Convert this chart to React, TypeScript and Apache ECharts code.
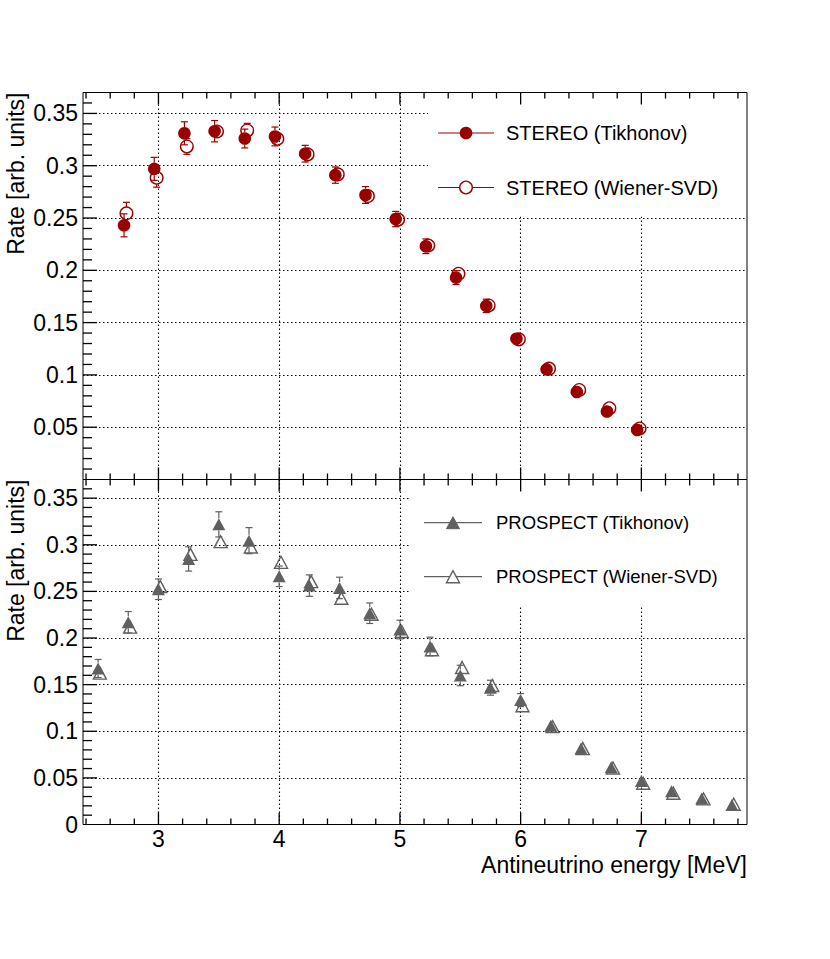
import React, { useEffect, useRef } from "react";
import * as echarts from "echarts";

// ---------------- data ----------------
const STEREO_TIK_E = [2.715, 2.965, 3.215, 3.465, 3.715, 3.965, 4.215, 4.465, 4.715, 4.965, 5.215, 5.465, 5.715, 5.965, 6.215, 6.465, 6.715, 6.965];
const STEREO_TIK_RATE = [0.243, 0.297, 0.331, 0.333, 0.326, 0.328, 0.3115, 0.291, 0.272, 0.249, 0.223, 0.193, 0.166, 0.1346, 0.1053, 0.0837, 0.065, 0.0474];
const STEREO_TIK_ERR = [0.011, 0.011, 0.011, 0.0102, 0.009, 0.009, 0.008, 0.0078, 0.008, 0.0073, 0.007, 0.0066, 0.0064, 0.006, 0.005, 0.005, 0.004, 0.004];

const STEREO_WSVD_E = [2.735, 2.985, 3.235, 3.485, 3.735, 3.985, 4.235, 4.485, 4.735, 4.985, 5.235, 5.485, 5.735, 5.985, 6.235, 6.485, 6.735, 6.985];
const STEREO_WSVD_RATE = [0.2545, 0.2885, 0.3184, 0.3327, 0.3337, 0.3258, 0.3108, 0.2917, 0.271, 0.2485, 0.2237, 0.1967, 0.1664, 0.134, 0.106, 0.0856, 0.0681, 0.0488];
const STEREO_WSVD_ERR = [0.0105, 0.009, 0.0075, 0.006, 0.0068, 0.006, 0.006, 0.0055, 0.0055, 0.005, 0.005, 0.005, 0.0045, 0.004, 0.004, 0.0035, 0.003, 0.003];

const PROSPECT_TIK_E = [2.5, 2.75, 3.0, 3.25, 3.5, 3.75, 4.0, 4.25, 4.5, 4.75, 5.0, 5.25, 5.5, 5.75, 6.0, 6.25, 6.5, 6.75, 7.0, 7.25, 7.5, 7.75];
const PROSPECT_TIK_RATE = [0.1673, 0.2169, 0.2523, 0.2848, 0.3219, 0.3044, 0.2662, 0.2562, 0.2537, 0.2266, 0.2091, 0.1909, 0.1598, 0.1467, 0.1334, 0.106, 0.0814, 0.0613, 0.0467, 0.0357, 0.0278, 0.021];
const PROSPECT_TIK_ERR = [0.0097, 0.0115, 0.011, 0.013, 0.0135, 0.014, 0.011, 0.0115, 0.0115, 0.011, 0.01, 0.01, 0.011, 0.008, 0.007, 0.006, 0.005, 0.0045, 0.004, 0.0035, 0.003, 0.003];

const PROSPECT_WSVD_E = [2.515, 2.765, 3.015, 3.265, 3.515, 3.765, 4.015, 4.265, 4.515, 4.765, 5.015, 5.265, 5.515, 5.765, 6.015, 6.265, 6.515, 6.765, 7.015, 7.265, 7.515, 7.765];
const PROSPECT_WSVD_RATE = [0.1623, 0.2116, 0.2551, 0.2897, 0.3033, 0.2976, 0.2812, 0.2605, 0.2426, 0.2255, 0.207, 0.1874, 0.1684, 0.1491, 0.1274, 0.1049, 0.0814, 0.0606, 0.0442, 0.0335, 0.0274, 0.0217];
const PROSPECT_WSVD_ERR = [0.005, 0.005, 0.005, 0.005, 0.005, 0.005, 0.005, 0.005, 0.005, 0.005, 0.005, 0.005, 0.005, 0.0045, 0.004, 0.004, 0.0035, 0.003, 0.003, 0.0025, 0.0025, 0.0025];

const X_MIN = 2.375;
const X_MAX = 7.875;
const MAJOR_X_TICKS = [3, 4, 5, 6, 7];
const MINOR_X_TICKS = [2.4, 2.6, 2.8, 3.2, 3.4, 3.6, 3.8, 4.2, 4.4, 4.6, 4.8, 5.2, 5.4, 5.6, 5.8, 6.2, 6.4, 6.6, 6.8, 7.2, 7.4, 7.6, 7.8];
const Y_MIN = 0;
const Y_MAX = 0.37;
const MAJOR_Y_TICKS = [0.05, 0.1, 0.15, 0.2, 0.25, 0.3, 0.35];
const MINOR_Y_TICKS = [0.01, 0.02, 0.03, 0.04, 0.06, 0.07, 0.08, 0.09, 0.11, 0.12, 0.13, 0.14, 0.16, 0.17, 0.18, 0.19, 0.21, 0.22, 0.23, 0.24, 0.26, 0.27, 0.28, 0.29, 0.31, 0.32, 0.33, 0.34, 0.36];

const X_TITLE = "Antineutrino energy [MeV]";
const Y_TITLE = "Rate [arb. units]";
const LEG_STEREO = ["STEREO (Tikhonov)", "STEREO (Wiener-SVD)"];
const LEG_PROSPECT = ["PROSPECT (Tikhonov)", "PROSPECT (Wiener-SVD)"];

// ---------------- styles ----------------
const RED = "#990000";
const GREY = "#606060";
const FONT = "'Liberation Sans', Arial, Helvetica, sans-serif";

const GL = 83;
const GW = 664;
const TOP_T = 92.5;
const TOP_H = 387;
const BOT_T = 479.5;
const BOT_H = 345;

const dot = () => ({ color: "#000", width: 1.1, type: [1.5, 2.5] as any, opacity: 1 });

function xAxisFor(gridIndex: number, labels: boolean) {
  return {
    type: "value",
    gridIndex,
    min: X_MIN,
    max: X_MAX,
    position: "bottom",
    z: 0,
    axisLine: { show: false, onZero: false },
    axisTick: { show: false, customValues: MAJOR_X_TICKS },
    splitLine: { show: true, lineStyle: dot() },
    axisLabel: labels
      ? { show: true, customValues: MAJOR_X_TICKS, margin: 3, fontSize: 23, fontFamily: FONT, color: "#000" }
      : { show: false },
  };
}

function yAxisFor(gridIndex: number, showZero: boolean) {
  return {
    type: "value",
    gridIndex,
    min: Y_MIN,
    max: Y_MAX,
    interval: 0.05,
    position: "left",
    z: 0,
    axisLine: { show: false, onZero: false },
    axisTick: { show: false },
    splitLine: { show: true, lineStyle: dot() },
    axisLabel: {
      show: true,
      showMinLabel: showZero,
      showMaxLabel: false,
      margin: 5,
      fontSize: 23,
      fontFamily: FONT,
      color: "#000",
      formatter: (v: number) => String(parseFloat(Number(v).toFixed(2))),
    },
  };
}

function errRenderer(color: string, gap: number) {
  return (params: any, api: any) => {
    const x = api.value(0);
    const y = api.value(1);
    const e = api.value(2);
    const c = api.coord([x, y]);
    const hi = api.coord([x, y + e]);
    const lo = api.coord([x, y - e]);
    const style = { stroke: color, lineWidth: 1.2, fill: "none" };
    const cap = 3.5;
    const children: any[] = [];
    if (c[1] - hi[1] > gap) {
      children.push({ type: "line", shape: { x1: c[0], y1: c[1] - gap, x2: c[0], y2: hi[1] }, style });
      children.push({ type: "line", shape: { x1: c[0] - cap, y1: hi[1], x2: c[0] + cap, y2: hi[1] }, style });
    }
    if (lo[1] - c[1] > gap) {
      children.push({ type: "line", shape: { x1: c[0], y1: c[1] + gap, x2: c[0], y2: lo[1] }, style });
      children.push({ type: "line", shape: { x1: c[0] - cap, y1: lo[1], x2: c[0] + cap, y2: lo[1] }, style });
    }
    return { type: "group", children };
  };
}

// one tick per data item: [x, y, kind] with kind 0 = bottom, 1 = top, 2 = left; value 3 = length in px
function tickRenderer(params: any, api: any) {
  const x = api.value(0);
  const y = api.value(1);
  const kind = api.value(2);
  const len = api.value(3);
  const c = api.coord([x, y]);
  const style = { stroke: "#000", lineWidth: 1.3, fill: "none" };
  let shape;
  if (kind === 2) shape = { x1: c[0], y1: c[1], x2: c[0] + len, y2: c[1] };
  else if (kind === 0) shape = { x1: c[0], y1: c[1], x2: c[0], y2: c[1] - len };
  else shape = { x1: c[0], y1: c[1], x2: c[0], y2: c[1] + len };
  return { type: "group", children: [{ type: "line", shape, style }] };
}

function tickData() {
  const d: number[][] = [];
  MINOR_X_TICKS.forEach((v) => { d.push([v, Y_MIN, 0, 6]); d.push([v, Y_MAX, 1, 6]); });
  MAJOR_X_TICKS.forEach((v) => { d.push([v, Y_MIN, 0, 12]); d.push([v, Y_MAX, 1, 12]); });
  MINOR_Y_TICKS.forEach((v) => d.push([X_MIN, v, 2, 9]));
  MAJOR_Y_TICKS.forEach((v) => d.push([X_MIN, v, 2, 14]));
  return d;
}

const pts = (e: number[], r: number[], s: number[]) => e.map((x, i) => [x, r[i], s[i]]);

export default function App() {
  const ref = useRef<HTMLDivElement>(null);
  useEffect(() => {
    if (!ref.current) return;
    const chart = echarts.init(ref.current, undefined, { renderer: "svg" });

    const top = { xAxisIndex: 0, yAxisIndex: 0 };
    const bot = { xAxisIndex: 1, yAxisIndex: 1 };

    const stTik = pts(STEREO_TIK_E, STEREO_TIK_RATE, STEREO_TIK_ERR);
    const stW = pts(STEREO_WSVD_E, STEREO_WSVD_RATE, STEREO_WSVD_ERR);
    const prTik = pts(PROSPECT_TIK_E, PROSPECT_TIK_RATE, PROSPECT_TIK_ERR);
    const prW = pts(PROSPECT_WSVD_E, PROSPECT_WSVD_RATE, PROSPECT_WSVD_ERR);

    const errSeries = (name: string, data: any[], axes: any, color: string, gap: number) => ({
      type: "custom",
      name: name + " err",
      ...axes,
      data,
      encode: { x: 0, y: 1 },
      renderItem: errRenderer(color, gap),
      silent: true,
      z: 2,
    });

    const tickSeries = (axes: any) => ({
      type: "custom",
      name: "axis ticks",
      ...axes,
      data: tickData(),
      dimensions: ["x", "y", "kind", "len"],
      encode: { x: 0, y: 1 },
      renderItem: tickRenderer,
      silent: true,
      clip: false,
      z: 2,
    });

    const legendBox = (x: number, y: number, w: number, h: number) => ({
      type: "rect",
      z: 1,
      shape: { x, y, width: w, height: h },
      style: { fill: "#fff", stroke: null },
      silent: true,
    });
    const txt = (text: string, x: number, y: number, size: number, extra: any = {}) => ({
      type: "text",
      z: 10,
      x,
      y,
      ...extra,
      style: {
        text,
        fill: "#000",
        fontSize: size,
        fontFamily: FONT,
        align: extra.align || "left",
        textAlign: extra.align || "left",
        verticalAlign: "middle",
        textVerticalAlign: "middle",
      },
      silent: true,
    });
    const hline = (x1: number, x2: number, y: number, color: string) => ({
      type: "line",
      z: 10,
      shape: { x1, y1: y, x2, y2: y },
      style: { stroke: color, lineWidth: 1.2 },
      silent: true,
    });
    const tri = (cx: number, cy: number, filled: boolean) => ({
      type: "polygon",
      z: 11,
      shape: { points: [[cx - 6.5, cy + 6], [cx + 6.5, cy + 6], [cx, cy - 6]] },
      style: filled ? { fill: GREY, stroke: GREY, lineWidth: 1 } : { fill: "#fff", stroke: GREY, lineWidth: 1.4 },
      silent: true,
    });

    const graphic: any[] = [
      legendBox(428, 93.5, 318, 123),
      legendBox(409, 480.5, 337, 125),
      hline(438, 494, 133, RED),
      { type: "circle", z: 11, shape: { cx: 466, cy: 133, r: 6.3 }, style: { fill: RED }, silent: true },
      txt(LEG_STEREO[0], 506, 133, 20),
      hline(438, 494, 187.5, RED),
      { type: "circle", z: 11, shape: { cx: 466, cy: 187.5, r: 6.3 }, style: { fill: "#fff", stroke: RED, lineWidth: 1.4 }, silent: true },
      txt(LEG_STEREO[1], 506, 187.5, 20),
      hline(424, 482, 522.7, GREY),
      tri(453, 522.7, true),
      txt(LEG_PROSPECT[0], 496, 522.7, 18.5),
      hline(424, 482, 576.7, GREY),
      tri(453, 576.7, false),
      txt(LEG_PROSPECT[1], 496, 576.7, 18.5),
      txt(Y_TITLE, 16, 92.5, 23, { rotation: Math.PI / 2, align: "right" }),
      txt(Y_TITLE, 16, 479.5, 23, { rotation: Math.PI / 2, align: "right" }),
      txt(X_TITLE, 747, 865, 23, { align: "right" }),
    ];

    chart.setOption({
      animation: false,
      backgroundColor: "#fff",
      grid: [
        { left: GL, top: TOP_T, width: GW, height: TOP_H, show: true, borderColor: "#000", borderWidth: 1, backgroundColor: "transparent", containLabel: false, outerBoundsMode: "none" },
        { left: GL, top: BOT_T, width: GW, height: BOT_H, show: true, borderColor: "#000", borderWidth: 1, backgroundColor: "transparent", containLabel: false, outerBoundsMode: "none" },
      ],
      xAxis: [xAxisFor(0, false), xAxisFor(1, true)],
      yAxis: [yAxisFor(0, false), yAxisFor(1, true)],
      graphic,
      series: [
        errSeries(LEG_STEREO[0], stTik, top, RED, 6.3),
        errSeries(LEG_STEREO[1], stW, top, RED, 6.3),
        errSeries(LEG_PROSPECT[0], prTik, bot, GREY, 6),
        errSeries(LEG_PROSPECT[1], prW, bot, GREY, 6),
        tickSeries(top),
        tickSeries(bot),
        {
          type: "scatter",
          name: LEG_STEREO[0],
          ...top,
          data: stTik,
          symbol: "circle",
          symbolSize: 12.6,
          itemStyle: { color: RED, opacity: 1 },
          silent: true,
          z: 3,
        },
        {
          type: "scatter",
          name: LEG_STEREO[1],
          ...top,
          data: stW,
          symbol: "circle",
          symbolSize: 12.6,
          itemStyle: { color: "rgba(255,255,255,0)", borderColor: RED, borderWidth: 1.4, opacity: 1 },
          silent: true,
          z: 4,
        },
        {
          type: "scatter",
          name: LEG_PROSPECT[0],
          ...bot,
          data: prTik,
          symbol: "triangle",
          symbolSize: [13, 12],
          itemStyle: { color: GREY, opacity: 1 },
          silent: true,
          z: 3,
        },
        {
          type: "scatter",
          name: LEG_PROSPECT[1],
          ...bot,
          data: prW,
          symbol: "triangle",
          symbolSize: [13, 12],
          itemStyle: { color: "rgba(255,255,255,0)", borderColor: GREY, borderWidth: 1.4, opacity: 1 },
          silent: true,
          z: 4,
        },
      ],
    });

    return () => chart.dispose();
  }, []);
  return <div ref={ref} style={{ position: "absolute", left: 0, top: 0, width: 830, height: 959 }} />;
}
